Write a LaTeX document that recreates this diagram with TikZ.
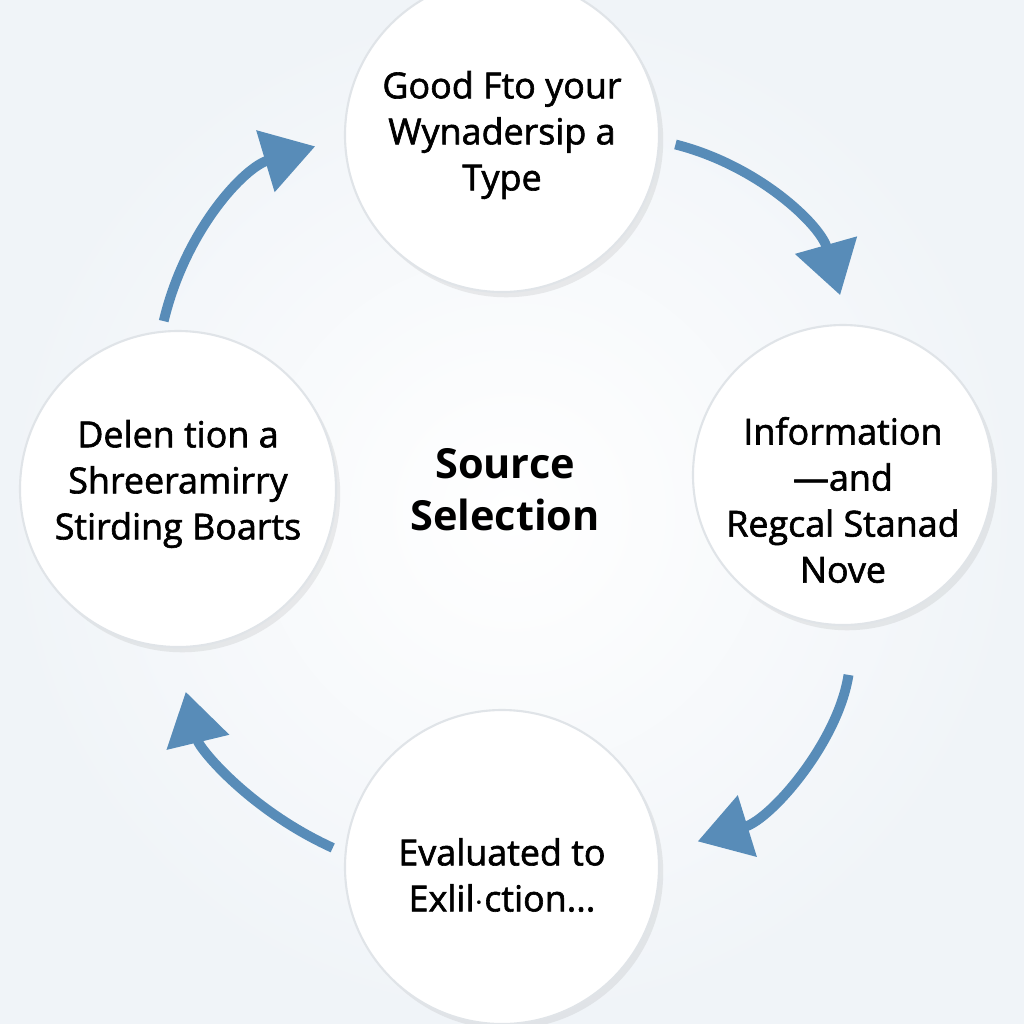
\documentclass[tikz,border=0pt]{standalone}
\usepackage{fontspec}
\setmainfont{Open Sans}
\newfontfamily\stagefont{Open Sans}[Ligatures=TeX, RawFeature={embolden=1.7}]
\usepackage{tikz}
\usetikzlibrary{arrows.meta, positioning, shadows, calc}
\definecolor{arrowblue}{RGB}{88,140,184}
\definecolor{bgedge}{RGB}{240,244,248}
\definecolor{ringgray}{RGB}{224,228,232}

\begin{document}
\begin{tikzpicture}[
  stage/.style={circle, fill=white, draw=ringgray, line width=0.6pt,
                minimum size=3.14cm, inner sep=0pt,
                drop shadow={shadow xshift=1.2pt, shadow yshift=-1.5pt,
                             opacity=0.14, fill=gray}},
  txt/.style={align=center, inner sep=0pt,
              font=\stagefont\fontsize{10.2}{13.1}\selectfont},
  arr/.style={-{Triangle[length=0.52cm, width=0.62cm]}, line width=2.8pt, arrowblue},
]
  \useasboundingbox (0,0) rectangle (10.24,-10.24);
  \shade[inner color=white, outer color=bgedge] (0,0) rectangle (10.24,-10.24);

  \node[stage, label={[txt]center:{Good Fto your\\Wynadersip a\\Type}}]
    (good) at (5.02,-1.35) {};
  \node[stage, minimum size=3.0cm,
        label={[txt, yshift=-0.25cm]center:{Information\\---and\\Regcal Stanad\\Nove}}]
    (info) at (8.43,-4.75) {};
  \node[stage, label={[txt, yshift=-0.08cm]center:{Evaluated to\\Exlil$\cdot$ction...}}]
    (eval) at (5.02,-8.67) {};
  \node[stage, minimum size=3.16cm,
        label={[txt, yshift=0.05cm]center:{Delen tion a\\Shreeramirry\\Stirding Boarts}}]
    (delen) at (1.78,-4.89) {};

  \node[font=\fontsize{11.8}{14.8}\selectfont\bfseries, align=center]
    (source) at (5.05,-4.90) {Source\\Selection};

  \draw[arr, shorten <=0.16cm, shorten >=0.30cm] (good.-2)   to[bend left=30] (info.88);
  \draw[arr, shorten <=0.50cm, shorten >=0.40cm] (info.-85)  to[bend left=32] (eval.5);
  \draw[arr, shorten <=0.13cm, shorten >=0.45cm] (eval.175)  to[bend left=26] (delen.-91);
  \draw[arr, shorten <=0.10cm, shorten >=0.30cm] (delen.96)  to[bend left=30] (good.181);
\end{tikzpicture}
\end{document}
